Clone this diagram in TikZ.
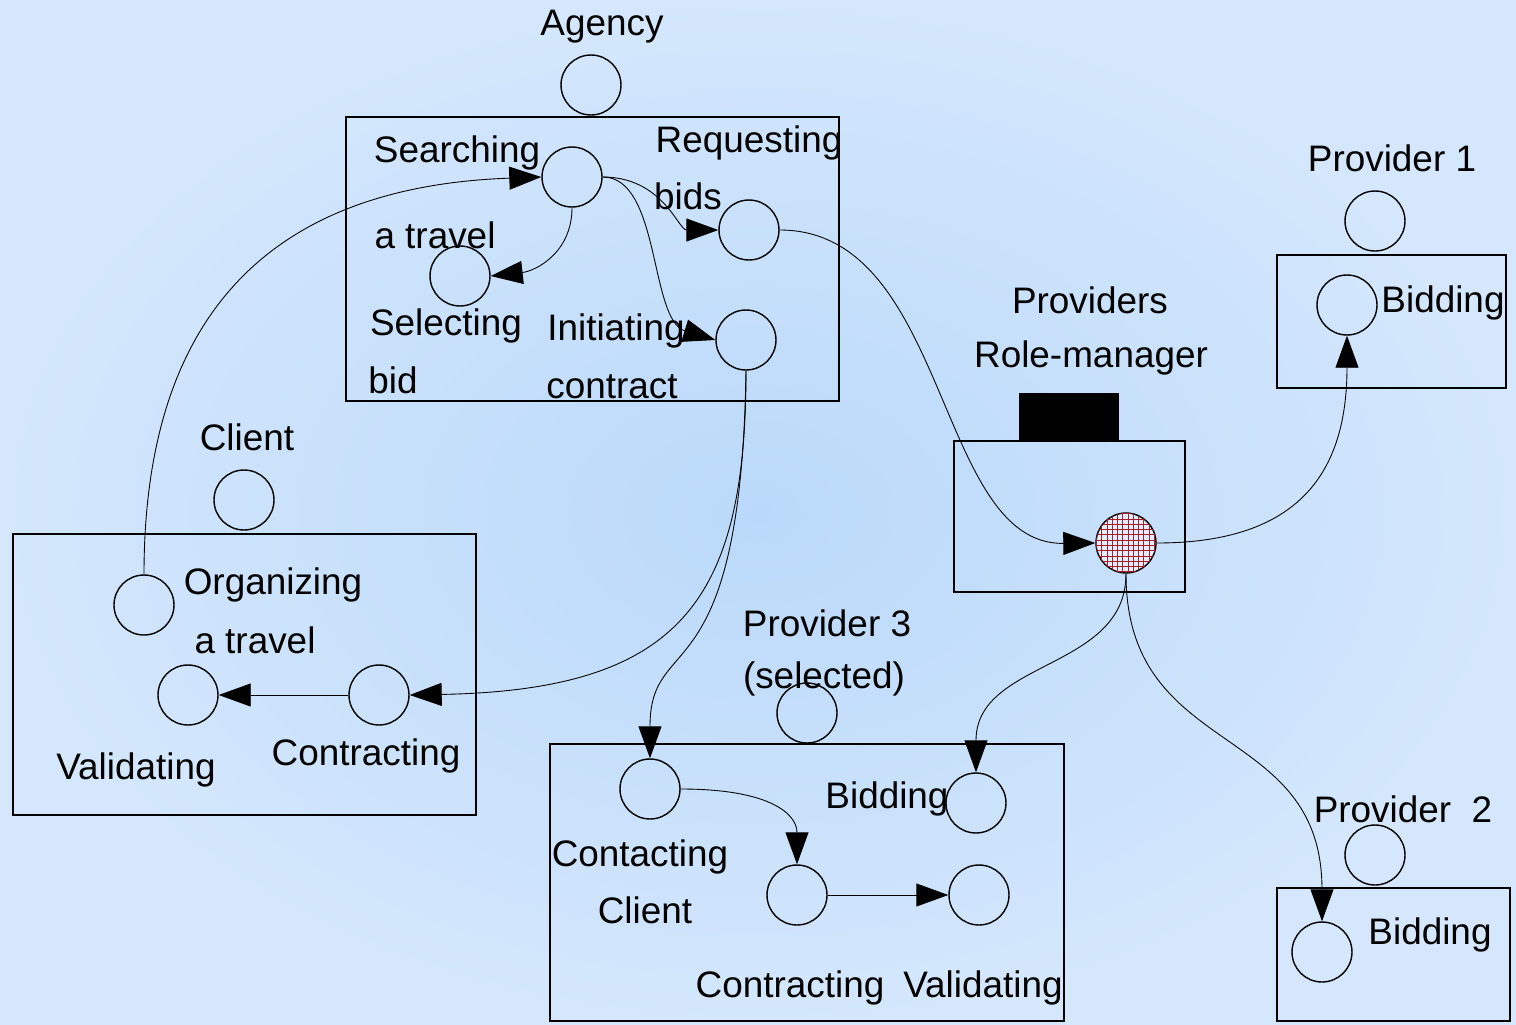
\documentclass[tikz,border=0pt]{standalone}
\usepackage{fontspec}
\setmainfont{Liberation Sans}
\usetikzlibrary{arrows.meta,patterns}

\definecolor{bgcenter}{RGB}{186,217,250}
\definecolor{bgouter}{RGB}{212,231,252}
\definecolor{gridred}{RGB}{165,30,40}

\begin{document}
\begin{tikzpicture}[x=0.02cm, y=-0.02cm,
        role/.style = { circle, draw, minimum size = 1.2cm, inner sep = 0pt, line width = 0.8pt},
        hub/.style = { role, fill = white!55!bgcenter, postaction = {pattern = grid, pattern color = gridred}},
        group/.style = { draw, line width = 0.9pt},
        txt/.style = { inner sep = 0pt, font = \fontsize{21pt}{25pt}\selectfont},
        link/.style = { line width = 0.5pt, -{Triangle[length=0.64cm, width=0.46cm]}}]

    % Background
    \useasboundingbox (0,0) rectangle (1516,1025);
    \shade[inner color=bgcenter, outer color=bgouter] (0,0) rectangle (1516,1025);

    % Agency
    \node[txt] (agencyL) at (602,27) {Agency};
    \node[role] (agency) at (591,85) {};
    \draw[group] (346,117) rectangle (839,401);
    \node[role] (search) at (572,177) {};
    \node[txt] (searchL1) at (457,153) {Searching};
    \node[txt] (searchL2) at (435,235) {a travel};
    \node[role] (request) at (749,230) {};
    \node[txt] (requestL1) at (749,143) {Requesting};
    \node[txt] (requestL2) at (688,196) {bids};
    \node[role] (select) at (460,276) {};
    \node[txt] (selectL1) at (446,326) {Selecting};
    \node[txt] (selectL2) at (393,380) {bid};
    \node[role] (initiate) at (746,340) {};
    \node[txt] (initiateL1) at (616,331) {Initiating};
    \node[txt] (initiateL2) at (612,387) {contract};

    % Client
    \node[txt] (clientL) at (247,437) {Client};
    \node[role] (client) at (244,500) {};
    \draw[group] (13,534) rectangle (476,815);
    \node[role] (organize) at (144,605) {};
    \node[txt] (organizeL1) at (273,585) {Organizing};
    \node[txt] (organizeL2) at (255,640) {a travel};
    \node[role] (cvalid) at (188,695) {};
    \node[txt] (cvalidL) at (136,770) {Validating};
    \node[role] (ccontract) at (379,695) {};
    \node[txt] (ccontractL) at (366,756) {Contracting};

    % Providers role-manager
    \node[txt] (managerL1) at (1090,300) {Providers};
    \node[txt] (managerL2) at (1091,358) {Role-manager};
    \fill[black] (1019,393) rectangle (1119,441);
    \draw[group] (954,441) rectangle (1185,592);
    \node[hub] (manager) at (1126,543) {};

    % Provider 1
    \node[txt] (prov1L) at (1392,158) {Provider 1};
    \node[role] (prov1) at (1375,221) {};
    \draw[group] (1277,255) rectangle (1506,388);
    \node[role] (bid1) at (1347,305) {};
    \node[txt] (bid1L) at (1443,303) {Bidding};

    % Provider 2
    \node[txt] (prov2L) at (1403,809) {Provider \ 2};
    \node[role] (prov2) at (1375,855) {};
    \draw[group] (1277,888) rectangle (1510,1021);
    \node[role] (bid2) at (1322,952) {};
    \node[txt] (bid2L) at (1430,935) {Bidding};

    % Provider 3
    \node[txt] (prov3L1) at (827,623) {Provider 3};
    \node[txt] (prov3L2) at (824,679) {(selected)};
    \node[role] (prov3) at (807,713) {};
    \draw[group] (550,744) rectangle (1064,1021);
    \node[role] (contact) at (650,789) {};
    \node[txt] (contactL1) at (640,857) {Contacting};
    \node[txt] (contactL2) at (645,910) {Client};
    \node[role] (bid3) at (976,803) {};
    \node[txt] (bid3L) at (887,799) {Bidding};
    \node[role] (pcontract) at (797,895) {};
    \node[txt] (pcontractL) at (790,988) {Contracting};
    \node[role] (pvalid) at (979,895) {};
    \node[txt] (pvalidL) at (983,988) {Validating};

    % Links
    \draw[link] (organize.north) .. controls +(0,-250) and +(-280,10) .. (search.west);
    \draw[link] (search.south) .. controls +(0,45) and +(45,-5) .. (select.east);
    \draw[link] (search.east) .. controls +(60,0) and +(-40,0) .. (request.west);
    \draw[link] (search.east) .. controls +(58,0) and +(-66,-20) .. (initiate.west);
    \draw[link] (request.east) .. controls +(170,0) and +(-160,2) .. (manager.west);
    \draw[link] (initiate.south) .. controls +(0,230) and +(271,-5) .. (ccontract.east);
    \draw[link] (initiate.south) .. controls +(-5,330) and +(0,-130) .. (contact.north);
    \draw[link] (ccontract.west) -- (cvalid.east);
    \draw[link] (manager.east) .. controls +(144,0) and +(0,135) .. (bid1.south);
    \draw[link] (manager.south) .. controls +(0,97) and +(0,-113) .. (bid3.north);
    \draw[link] (manager.south) .. controls +(0,187) and +(0,-202) .. (bid2.north);
    \draw[link] (contact.east) .. controls +(90,0) and +(0,-50) .. (pcontract.north);
    \draw[link] (pcontract.east) -- (pvalid.west);

\end{tikzpicture}
\end{document}
